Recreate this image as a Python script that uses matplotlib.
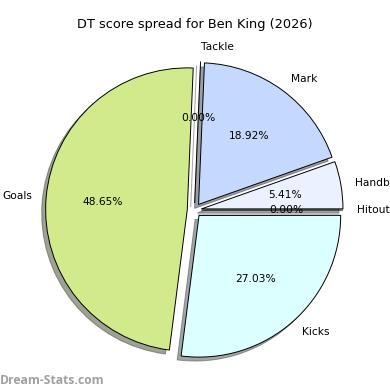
import matplotlib
matplotlib.use("Agg")
import matplotlib.pyplot as plt

# score categories in drawing order (counter-clockwise from the top)
labels = ["Tackle", "Goals", "Kicks", "Hitout", "Handball", "Mark"]
scores = [0, 36, 20, 0, 4, 14]
colours = ["#f0f0f0", "#d1eb8c", "#dcffff", "#f0f0f0", "#ebf1ff", "#c5d9ff"]

fig = plt.figure(figsize=(3.9, 3.9), dpi=100)
ax = fig.add_axes([0.0443, 0.0072, 0.908, 0.908])

wedges, texts, autotexts = ax.pie(
    scores, labels=labels, colors=colours, autopct="%1.2f%%",
    startangle=87.6, explode=[0.05] * len(scores), shadow=True,
    wedgeprops={"edgecolor": "black", "linewidth": 0.7},
    textprops={"fontsize": 7.7},
)
ax.set_aspect("equal")

fig.text(0.5, 0.936, "DT score spread for Ben King (2026)", ha="center",
         va="center", fontsize=9.3)
fig.text(0.0, 0.025, "Dream-Stats.com", ha="left", va="center",
         fontsize=8.7, color="#a0a0a0", fontweight="bold", family="Open Sans")

fig.savefig("out.png", dpi=100)
